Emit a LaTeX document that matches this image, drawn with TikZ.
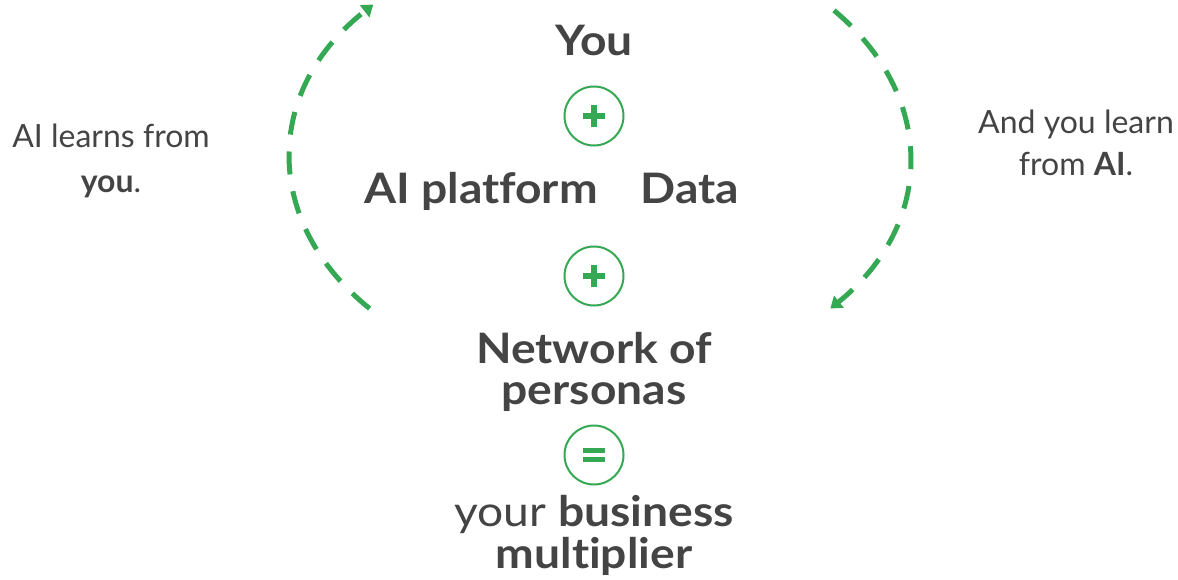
\documentclass[tikz,border=0pt]{standalone}
\usepackage{fontspec}
\setmainfont{Lato}[Ligatures=NoCommon]
\newfontfamily\centerfont{Lato}[FakeStretch=1.1, Ligatures=NoCommon]
\usetikzlibrary{arrows.meta}

\definecolor{gGreen}{HTML}{34A853}
\definecolor{gText}{HTML}{444444}

\tikzset{
  bigtext/.style={text=gText, font=\centerfont\fontsize{42}{46}\selectfont\bfseries, anchor=base, inner sep=0pt},
  sidetext/.style={text=gText, font=\fontsize{32}{36}\selectfont, anchor=base, inner sep=0pt},
  signbox/.style={circle, draw=gGreen, line width=2pt, minimum size=59pt, inner sep=0pt},
  plusbox/.style={signbox, path picture={
      \draw[gGreen, line width=6pt] ([xshift=-11pt]path picture bounding box.center) -- ([xshift=11pt]path picture bounding box.center);
      \draw[gGreen, line width=6pt] ([yshift=-11pt]path picture bounding box.center) -- ([yshift=11pt]path picture bounding box.center);}},
  eqbox/.style={signbox, path picture={
      \draw[gGreen, line width=5pt] ([shift={(-11pt,4.5pt)}]path picture bounding box.center) -- ([shift={(11pt,4.5pt)}]path picture bounding box.center);
      \draw[gGreen, line width=5pt] ([shift={(-11pt,-4.5pt)}]path picture bounding box.center) -- ([shift={(11pt,-4.5pt)}]path picture bounding box.center);}},
  loopline/.style={gGreen, line width=5pt, dash pattern=on 23pt off 17pt,
      -{Triangle[width=15pt,length=11pt]}}
}

\begin{document}
\begin{tikzpicture}[x=1pt,y=1pt]
        \useasboundingbox (0,0) rectangle (1178,-579);

        % centre column
        \node[bigtext] (you) at (594,-55) {You};
        \node[plusbox] (plusA) at (594,-116) {};
        \node[bigtext] (platform) at (481,-203) {AI platform};
        \node[bigtext] (data) at (690,-203) {Data};
        \node[plusbox] (plusB) at (594,-276) {};
        \node[bigtext] (netA) at (594,-363) {Network of};
        \node[bigtext] (netB) at (594,-404) {personas};
        \node[eqbox] (equal) at (594,-455) {};
        \node[bigtext] (multA) at (594,-526) {\mdseries your \bfseries business};
        \node[bigtext] (multB) at (594,-568) {multiplier};

        % side notes
        \node[sidetext] (leftA) at (111,-147) {AI learns from};
        \node[sidetext] (leftB) at (111,-192) {\bfseries you\mdseries .};
        \node[sidetext] (rightA) at (1076,-133) {And you learn};
        \node[sidetext] (rightB) at (1076,-175) {from \bfseries AI\mdseries .};

        % the learning loop
        \coordinate (ctr) at (600,-158);
        \draw[loopline] (ctr) ++(222:310 and 225) arc[start angle=222, end angle=137, x radius=310, y radius=225];
        \draw[loopline] (ctr) ++(41:310 and 225) arc[start angle=41, end angle=-42, x radius=310, y radius=225];
    \end{tikzpicture}
\end{document}
